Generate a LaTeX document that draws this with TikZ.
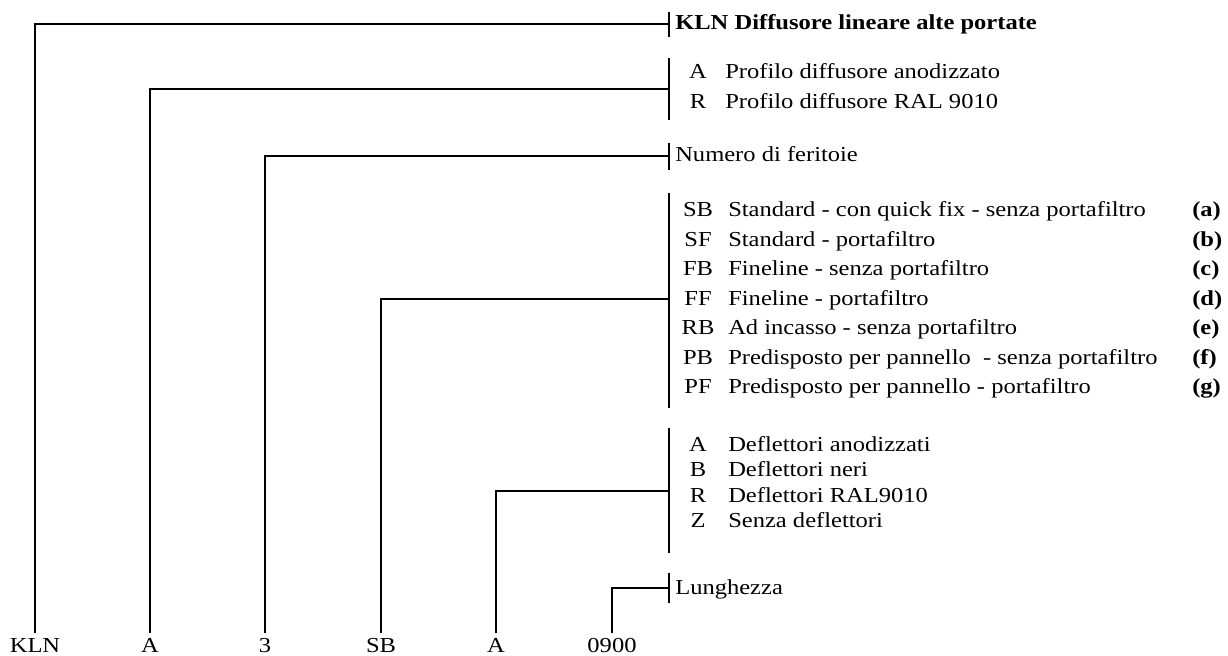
\documentclass[tikz,border=0pt]{standalone}
\usepackage{fontspec}
\setmainfont[FakeStretch=1.15]{Liberation Serif}
\usetikzlibrary{positioning}
\tikzset{
    % Text styles
    codetext/.style={
        inner sep=0pt,
        anchor=base,
        font=\fontsize{16}{19}\selectfont
    },
    desctext/.style={
        inner sep=0pt,
        anchor=base west,
        font=\fontsize{16}{19}\selectfont
    },
    headtext/.style={
        desctext,
        font=\fontsize{16}{19}\selectfont\bfseries
    },
    parttext/.style={
        codetext,
        outer ysep=3.5pt
    },
    % Line styles
    groupbar/.style={
        line width=1pt
    },
    leader/.style={
        line width=1pt
    }
}

\begin{document}
\begin{tikzpicture}[x=0.75pt, y=-0.75pt]
    \useasboundingbox (0,0) rectangle (1228,656);

    % Code parts (bottom)
    \node[parttext] (pKLN) at (35,652) {KLN};
    \node[parttext] (pProf) at (150,652) {A};
    \node[parttext] (pFer) at (265,652) {3};
    \node[parttext] (pVer) at (381,652) {SB};
    \node[parttext] (pDef) at (496,652) {A};
    \node[parttext] (pLun) at (612,652) {0900};

    % Group bars
    \draw[groupbar] (669,12) -- (669,37);
    \draw[groupbar] (669,58) -- (669,120);
    \draw[groupbar] (669,143) -- (669,170);
    \draw[groupbar] (669,193) -- (669,408);
    \draw[groupbar] (669,428) -- (669,553);
    \draw[groupbar] (669,573) -- (669,603);

    \coordinate (bKLN) at (669,24);
    \coordinate (bProf) at (669,89);
    \coordinate (bFer) at (669,156);
    \coordinate (bVer) at (669,299);
    \coordinate (bDef) at (669,491);
    \coordinate (bLun) at (669,588);

    % Leaders
    \draw[leader] (pKLN.north) |- (bKLN);
    \draw[leader] (pProf.north) |- (bProf);
    \draw[leader] (pFer.north) |- (bFer);
    \draw[leader] (pVer.north) |- (bVer);
    \draw[leader] (pDef.north) |- (bDef);
    \draw[leader] (pLun.north) |- (bLun);

    % Header
    \node[headtext] (dKLN) at (675,30) {KLN Diffusore lineare alte portate};

    % Profile
    \node[codetext] (cProfA) at (698,79) {A};
    \node[codetext] (cProfR) at (698,109) {R};
    \node[desctext] (dProfA) at (725,79) {Profilo diffusore anodizzato};
    \node[desctext] (dProfR) at (725,109) {Profilo diffusore RAL 9010};

    % Slots
    \node[desctext] (dFer) at (675,162) {Numero di feritoie};

    % Versions
    \node[codetext] (cSB) at (698,216) {SB};
    \node[codetext] (cSF) at (698,246) {SF};
    \node[codetext] (cFB) at (698,275) {FB};
    \node[codetext] (cFF) at (698,305) {FF};
    \node[codetext] (cRB) at (698,334) {RB};
    \node[codetext] (cPB) at (698,364) {PB};
    \node[codetext] (cPF) at (698,393) {PF};

    \node[desctext] (dSB) at (728,216) {Standard - con quick fix - senza portafiltro};
    \node[desctext] (dSF) at (728,246) {Standard - portafiltro};
    \node[desctext] (dFB) at (728,275) {Fineline - senza portafiltro};
    \node[desctext] (dFF) at (728,305) {Fineline - portafiltro};
    \node[desctext] (dRB) at (728,334) {Ad incasso - senza portafiltro};
    \node[desctext] (dPB) at (728,364) {Predisposto per pannello\ \ - senza portafiltro};
    \node[desctext] (dPF) at (728,393) {Predisposto per pannello - portafiltro};

    \node[headtext] (nSB) at (1192,216) {(a)};
    \node[headtext] (nSF) at (1192,246) {(b)};
    \node[headtext] (nFB) at (1192,275) {(c)};
    \node[headtext] (nFF) at (1192,305) {(d)};
    \node[headtext] (nRB) at (1192,334) {(e)};
    \node[headtext] (nPB) at (1192,364) {(f)};
    \node[headtext] (nPF) at (1192,393) {(g)};

    % Deflectors
    \node[codetext] (cDefA) at (698,451) {A};
    \node[codetext] (cDefB) at (698,476) {B};
    \node[codetext] (cDefR) at (698,502) {R};
    \node[codetext] (cDefZ) at (698,527) {Z};
    \node[desctext] (dDefA) at (728,451) {Deflettori anodizzati};
    \node[desctext] (dDefB) at (728,476) {Deflettori neri};
    \node[desctext] (dDefR) at (728,502) {Deflettori RAL9010};
    \node[desctext] (dDefZ) at (728,527) {Senza deflettori};

    % Length
    \node[desctext] (dLun) at (675,594) {Lunghezza};
\end{tikzpicture}
\end{document}
